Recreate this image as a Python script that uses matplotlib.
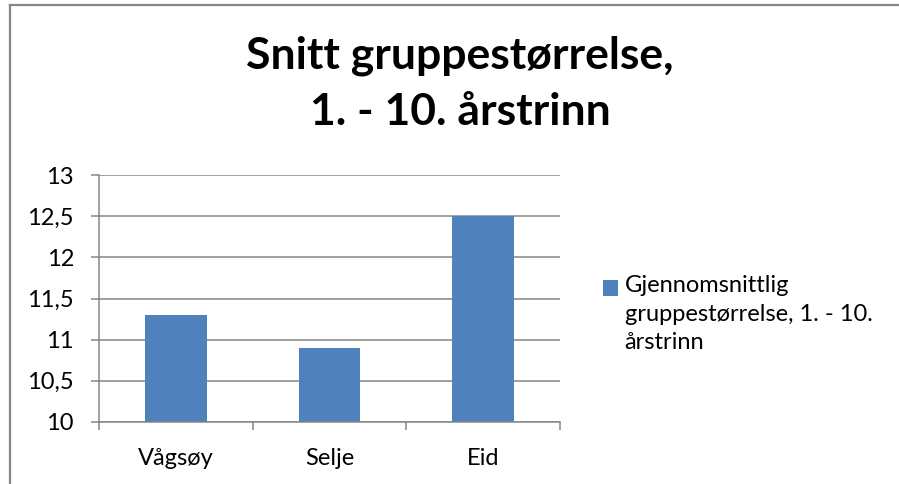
import matplotlib.pyplot as plt
from matplotlib.lines import Line2D
import numpy as np

# data
kommuner = ["Vågsøy", "Selje", "Eid"]
snitt = [11.3, 10.9, 12.5]
serie_navn = "Gjennomsnittlig\ngruppestørrelse, 1. - 10.\nårstrinn"
y_ticks = [10, 10.5, 11, 11.5, 12, 12.5, 13]
y_labels = ["10", "10,5", "11", "11,5", "12", "12,5", "13"]

bar_color = "#4F81BD"
grid_color = "#868686"
plt.rcParams["font.family"] = ["Lato", "DejaVu Sans"]

fig = plt.figure(figsize=(8.99, 4.84), dpi=100)
ax = fig.add_axes([0.1101, 0.1287, 0.5128, 0.5091])

x = np.arange(len(kommuner))
ax.bar(x, [v - 10 for v in snitt], bottom=10, width=0.4, color=bar_color,
       label=serie_navn, zorder=3)

ax.set_xlim(-0.5, len(kommuner) - 0.5)
ax.set_ylim(10, 13)
ax.set_yticks(y_ticks)
ax.set_yticklabels(y_labels)
ax.set_xticks(x)
ax.set_xticklabels(kommuner)
ax.set_xticks(np.arange(len(kommuner) + 1) - 0.5, minor=True)

ax.grid(axis="y", color=grid_color, lw=1.1, zorder=0)
for s in ["top", "right"]:
    ax.spines[s].set_visible(False)
for s in ["left", "bottom"]:
    ax.spines[s].set_color(grid_color)
    ax.spines[s].set_linewidth(1.1)
    ax.spines[s].set_zorder(4)

ax.tick_params(axis="y", length=6, width=1.1, color=grid_color, pad=12, labelsize=17)
ax.tick_params(axis="x", which="major", length=0, pad=19, labelsize=17)
ax.tick_params(axis="x", which="minor", length=6, width=1.1, color=grid_color)

fig.text(0.5117, 0.927, "Snitt gruppestørrelse,\n1. - 10. årstrinn", ha="center", va="top",
         fontsize=32, fontweight="bold", linespacing=1.5)

leg = ax.legend(loc="upper left", bbox_to_anchor=(0.6707, 1 - 275 / 484),
                bbox_transform=fig.transFigure, frameon=False, fontsize=17,
                handlelength=0.62, handleheight=0.62, handletextpad=0.3,
                borderpad=0, borderaxespad=0)
for t in leg.get_texts():
    t.set_linespacing(1.45)

# chart border (left and top edges only, as in the original)
fig.add_artist(Line2D([0.0111, 0.0111], [0, 0.989], transform=fig.transFigure,
                      color=grid_color, lw=1.6))
fig.add_artist(Line2D([0.0111, 1], [0.989, 0.989], transform=fig.transFigure,
                      color=grid_color, lw=1.6))

# move the legend square up next to the first line of text
fig.canvas.draw()
renderer = fig.canvas.get_renderer()
txt_bb = leg.get_texts()[0].get_window_extent(renderer)
h = leg.legend_handles[0]
h_bb = h.get_window_extent(renderer)
line_px = txt_bb.height / 3
target_top = txt_bb.y1 - 0.2 * line_px
shift = (target_top - h_bb.y1) * 72 / fig.dpi
h.set_y(h.get_y() + shift)

fig.savefig("out.png", dpi=100)
